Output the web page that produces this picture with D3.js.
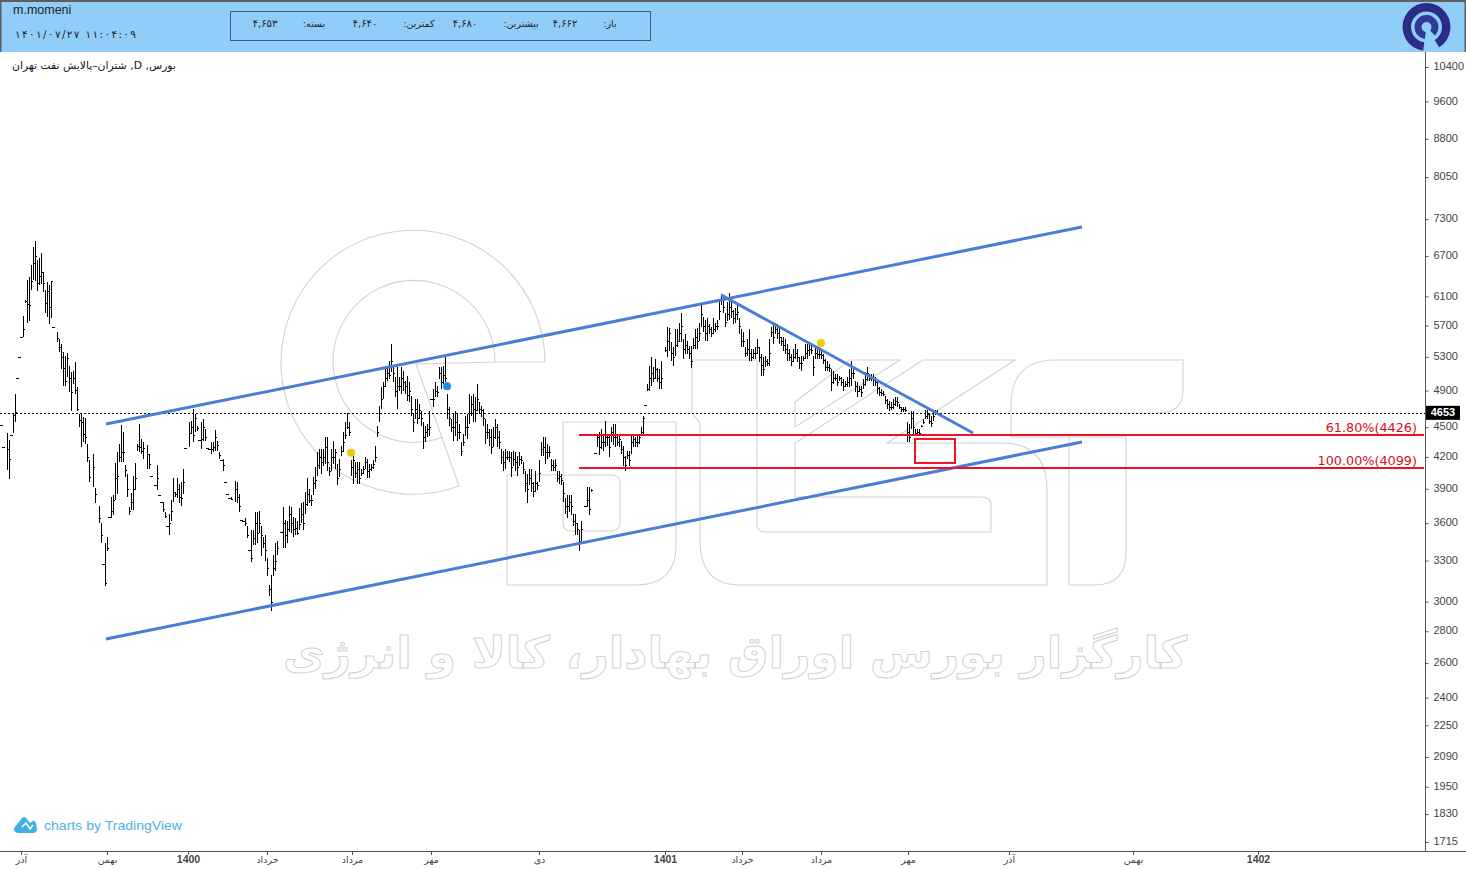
<!DOCTYPE html>
<html lang="fa">
<head>
<meta charset="utf-8">
<title>m.momeni</title>
<script src="https://cdnjs.cloudflare.com/ajax/libs/d3/7.8.5/d3.min.js"></script>
<style>
html,body{margin:0;padding:0;background:#fff;overflow:hidden}
svg{display:block;font-family:"Liberation Sans",Arial,sans-serif}
.fa{font-family:"DejaVu Sans",sans-serif}
</style>
</head>
<body>
<svg id="chart" width="1466" height="869"></svg>
<script>
// Daily bars, one row per ten sessions. null marks a session with no print.
const highs = [
4525,4300,null,4440,4370,4420,4640,4860,5045,5295,
5555,5835,6050,6340,6385,6565,6845,6940,6640,6670,
6750,6460,6195,6310,6270,6325,5685,null,5610,5530,
5455,5355,5310,5345,5185,5115,5125,5235,4940,4640,
4650,4610,4600,4330,4165,null,4230,3910,null,3750,
3600,3270,3435,3490,3655,3830,3840,4145,4250,4330,
4525,4450,4125,4040,3740,3865,4020,4145,4330,4535,
4380,4350,null,4320,4230,4020,null,3930,4125,3840,
3785,3785,3695,3575,3680,3795,3995,3875,3995,3945,
3965,4085,4290,null,4555,4565,4695,4640,4515,4370,
4555,4590,4485,4290,4280,4350,4350,4470,4360,4250,
4165,4180,3965,3855,3815,3830,null,3975,3965,3855,
3625,3615,3640,3575,3380,3540,3540,3695,3695,3705,
3575,3490,3500,3320,3115,3190,3340,3435,3450,null,
3530,3740,3625,3615,3750,3740,3655,3640,3615,3730,
3770,3785,3875,3995,3900,3840,4010,4105,4250,4280,
4280,4280,4400,4400,4105,4280,4360,4280,4135,4180,
4310,4450,4555,4650,4555,4165,4250,4150,4150,4150,
4085,4115,4200,4180,4135,4135,4165,4310,4515,4725,
4940,5000,5175,5175,5245,5455,5185,5060,5175,5055,
5175,5125,5010,5065,5000,4840,4640,4805,4805,4750,
4670,4555,4515,4535,4670,4805,4915,4995,4950,5175,
5175,5185,5295,4860,4715,4590,4640,4670,4640,4535,
4350,4430,4620,4640,4860,4840,4860,4825,4975,4770,
4730,4695,4590,4535,4485,4485,4505,4590,4535,4460,
4280,4260,4280,4260,4260,4250,4260,4250,4210,4250,
4210,4150,4060,4040,4085,4085,3965,4060,3965,4165,
4350,4400,4400,4330,4310,4180,4165,4180,4060,4065,
4040,3965,3815,3840,3840,3840,3680,3680,3600,3540,
3615,null,3750,3920,3920,3900,4105,4240,4430,4450,
4480,4430,4565,4430,4430,4505,4535,4535,4430,4410,
4360,4310,4210,4260,4260,4430,4430,4400,4410,4430,
4505,4620,4740,4975,5185,5295,5175,5270,5160,5150,
5245,null,5420,5685,5670,5480,5420,5650,5650,5740,
5870,5520,5585,5495,5430,5430,5535,5650,5670,5740,
6010,5820,5780,5805,5715,5685,5805,5740,5780,6050,
6135,6050,5875,6025,6150,6050,5915,5940,5985,5805,
5650,5620,5420,5520,5650,5395,5395,5420,5520,5420,
5330,5295,5310,5270,5520,5685,5750,5740,5715,5675,
5555,5545,5520,5455,5395,5330,5395,5455,5395,5295,
5310,5310,5455,5455,5455,5430,5310,5430,5430,5420,
5395,5330,5270,5245,5210,5150,5125,5090,5090,5065,
5055,5030,5010,5055,5150,5245,5175,5010,5000,4950,
4950,5030,5115,5175,5090,5090,5090,5055,5000,4940,
4915,4895,4840,4805,4785,4770,4805,4830,4830,4750,
4715,4715,4715,4555,4535,4670,4670,4485,4485,4485,
4520,4590,4680,4680,4640,4620,4670,4680,4680
];
const lows = [
4525,4300,null,4078,3985,4420,4440,4555,5045,5295,
5555,5545,6010,5740,5765,6195,6340,6325,6170,6270,
6285,6160,5875,5820,5715,5805,5685,null,5480,5355,
5150,4950,4950,5055,4885,4670,4975,4860,4670,4500,
4300,4350,4330,4150,3965,null,3920,3770,null,3600,
3435,3270,3110,3375,3655,3640,3665,3795,3855,4150,
4150,4150,4010,3830,3665,3710,3715,3885,4260,4250,
4230,4180,null,4085,4085,4020,null,3930,3885,3840,
3785,3695,3640,3575,3500,3615,3785,3830,3815,3770,
3750,3855,4290,null,4300,4430,4350,4450,4460,4370,
4280,4360,4360,4290,4280,4230,4250,4260,4260,4180,
4165,4065,3965,3855,3815,3795,null,3785,3770,3695,
3625,3615,3575,3475,3380,3290,3420,3420,3435,3515,
3335,3395,3295,3180,3040,2935,3180,3220,3340,null,
3530,3395,3395,3435,3530,3515,3490,3500,3500,3540,
3600,3540,3680,3750,3770,3750,3840,3900,4020,4085,
4040,4115,4135,4060,4020,4065,4135,4085,3930,4010,
4210,4250,4380,4485,4410,4020,3945,3995,3945,3945,
4020,4040,4085,3995,3995,4065,4085,4150,4400,4555,
4695,4805,4940,5010,5030,5115,4995,4830,4695,4895,
4860,4895,4860,4785,4770,4615,4450,4590,4535,4590,
4515,4280,4350,4400,4410,4805,4715,4830,4830,5030,
4915,4975,5000,4590,4515,4450,4360,4410,4360,4380,
4210,4310,4410,4380,4535,4615,4555,4555,4670,4640,
4610,4515,4330,4380,4310,4230,4300,4380,4300,4280,
4135,4060,4085,4165,4150,4010,4115,4060,4020,4115,
4135,4040,3875,3770,3930,3875,3830,3875,3885,3965,
4210,4210,4135,4180,4200,4060,4065,4065,3965,3945,
3930,3785,3680,3640,3695,3665,3575,3500,3500,3375,
3450,null,3750,3740,3665,3875,4105,4240,4300,4220,
4280,4260,4300,4310,4200,4350,4320,4300,4310,4300,
4230,4115,4065,4180,4115,4230,4300,4300,4300,4330,
4410,4430,4740,4900,4900,4950,4995,5030,4995,4915,
4915,null,5355,5295,5370,5245,5185,5310,5420,5480,
5480,5270,5330,5330,5270,5160,5395,5395,5395,5495,
5680,5610,5495,5495,5585,5555,5585,5620,5635,5780,
5985,5875,5680,5755,5780,5805,5715,5740,5780,5585,
5420,5420,5295,5310,5245,5245,5270,5270,5330,5235,
5065,5065,5175,5185,5185,5555,5455,5585,5520,5455,
5430,5370,5330,5245,5245,5185,5235,5270,5235,5150,
5125,5245,5270,5270,5310,5330,5065,5270,5270,5270,
5270,5210,5125,5125,5115,4895,4975,5010,4950,5010,
4950,4895,4940,4940,4940,4950,5030,4885,4830,4885,
4830,4915,4950,5010,5010,5010,4950,4950,4860,4840,
4840,4840,4750,4695,4670,4680,4695,4725,4715,4695,
4660,4660,4660,4350,4350,4485,4410,4410,4410,4410,
4500,4535,4590,4590,4535,4505,4565,4630,4640
];
const closes = [
4525,4300,null,4280,4182,4420,4630,4660,5045,5295,
5555,5650,6030,6000,5980,6320,6600,6700,6300,6390,
6450,6290,6010,6170,5950,6320,5685,null,5540,5420,
5300,5160,5010,5280,5040,4880,5050,4910,4700,4580,
4560,4430,4400,4200,4010,null,4100,3850,null,3640,
3500,3270,3130,3400,3655,3700,3800,4000,4020,4200,
4250,4250,4070,3900,3700,3780,3900,4000,4310,4300,
4260,4290,null,4230,4130,4020,null,3930,4000,3840,
3785,3720,3660,3575,3600,3700,3870,3850,3900,3830,
3820,3960,4290,null,4440,4500,4420,4600,4490,4370,
4380,4500,4400,4290,4280,4280,4300,4400,4320,4220,
4165,4120,3965,3855,3815,3810,null,3900,3830,3750,
3625,3615,3600,3500,3380,3320,3480,3600,3520,3600,
3500,3440,3380,3240,3090,3000,3240,3300,3400,null,
3530,3600,3500,3550,3680,3600,3550,3560,3520,3590,
3680,3600,3760,3850,3800,3800,3950,3980,4120,4200,
4150,4200,4300,4150,4060,4200,4200,4250,4000,4080,
4260,4350,4420,4500,4450,4100,4170,4050,4080,4000,
4050,4080,4150,4060,4080,4100,4130,4200,4450,4650,
4800,4950,5050,5100,5080,5250,5100,4900,4950,4950,
5050,5000,4950,4850,4900,4700,4550,4700,4600,4680,
4600,4400,4450,4480,4500,4805,4800,4900,4880,5100,
5000,5080,5050,4700,4600,4500,4500,4550,4450,4450,
4260,4350,4500,4500,4650,4750,4700,4680,4800,4700,
4680,4600,4450,4450,4400,4300,4400,4500,4400,4350,
4200,4150,4200,4200,4200,4100,4180,4150,4100,4180,
4170,4080,3950,3900,4000,3950,3880,3950,3930,4050,
4280,4300,4250,4250,4250,4120,4100,4120,4000,4020,
3980,3860,3750,3750,3780,3750,3620,3600,3550,3450,
3550,null,3750,3800,3720,3890,4105,4240,4400,4300,
4350,4350,4400,4400,4300,4450,4400,4400,4350,4380,
4280,4200,4120,4220,4170,4350,4380,4350,4350,4400,
4450,4600,4740,4920,5050,5100,5050,5150,5050,5000,
5050,null,5380,5500,5600,5350,5300,5450,5500,5600,
5700,5400,5450,5400,5350,5250,5450,5550,5500,5600,
5850,5700,5600,5700,5650,5600,5650,5700,5700,5900,
6050,5950,5750,5850,5950,5900,5800,5850,5880,5700,
5500,5500,5350,5400,5350,5300,5350,5350,5420,5300,
5200,5150,5250,5220,5350,5620,5550,5650,5600,5550,
5500,5450,5400,5350,5300,5250,5300,5350,5300,5220,
5220,5280,5350,5380,5400,5380,5180,5350,5330,5340,
5320,5260,5180,5180,5160,5000,5050,5040,5000,5040,
5000,4950,4980,5000,5050,5100,5100,4950,4900,4920,
4880,4980,5030,5100,5050,5050,5020,5000,4930,4880,
4870,4860,4790,4750,4720,4720,4750,4780,4770,4720,
4690,4690,4680,4450,4400,4600,4500,4440,4450,4440,
4510,4560,4620,4640,4570,4540,4620,4650,4653
];
const lastOpen = 4662;

// Price axis
const priceTicks = [10400,9600,8800,8050,7300,6700,6100,5700,5300,4900,4500,4200,3900,3600,3300,3000,2800,2600,2400,2250,2090,1950,1830,1715];

// Session axis: bar number and the month or year printed under it
const sessionTicks = [10,53,93.5,133,175.5,215,269,332,370.5,410,453.5,504,566,628.5];
const sessionLabels = ["آذر","بهمن","1400","خرداد","مرداد","مهر","دی","1401","خرداد","مرداد","مهر","آذر","بهمن","1402"];

// Drawn studies, as [bar, price] anchors
const channelUpper = [[52.5,4533],[540.5,7169]];
const channelLower = [[52.5,2750],[540.5,4348]];
const downTrend = [[360,6121],[486,4440]];
const fibLevels = [{ratio:"61.80%",price:4426},{ratio:"100.00%",price:4099}];
const fibStartBar = 289;
const targetBox = {from:457,to:477,top:4379,bottom:4141};
const eventDots = [{bar:175,price:4240,color:"#f2c80f"},{bar:410,price:5475,color:"#f2c80f"},{bar:223,price:4950,color:"#1c8ae6"}];

const svg = d3.select("#chart");
const PLOT_RIGHT = 1425, AXIS_Y = 851, HEADER_H = 52;
const x = d3.scaleLinear().domain([0,712]).range([1,PLOT_RIGHT]);
const y = d3.scaleLog().domain([10400,1715]).range([67,842]);
const lastClose = closes[closes.length-1];
const lastHigh = highs[highs.length-1];
const lastLow = lows[lows.length-1];
const snap = v => Math.round(v)+0.5;

// Background brand mark: ring and lettering outlines behind the plot
const wm = svg.append("g").attr("fill","none").attr("stroke","#d2d2d2").attr("stroke-width",1.1);
const R=132, r=81;
wm.append("path").attr("d",
  `M545,362 A${R},${R} 0 1 0 459,486 L416,364 L495,362 A${r},${r} 0 1 0 443,437`);
wm.append("path").attr("d","M495,362 L545,362");
wm.append("path").attr("d",
  "M563,422 H676 V545 Q676,585 636,585 H507 V475 H612 Q620,475 620,483 V522 Q620,531 612,531 H571 Q563,531 563,523 Z");
wm.append("path").attr("d",
  "M692,360 H757 V524 Q757,532 765,532 H991 V505 Q991,497 980,497 H795 V443 L923,360 H1015 L887,443 H1002 Q1047,443 1047,490 V585 H740 Q700,585 700,540 V423 L692,413 Z");
wm.append("path").attr("d","M795,402 L850,360 H900 L795,427 Z");
wm.append("path").attr("d",
  "M1011,437 V405 Q1011,360 1056,360 H1183 V390 Q1183,413 1158,413 H1030");
wm.append("path").attr("d",
  "M1011,437 H1126 V552 Q1126,585 1095,585 H1069 V437");
svg.append("text").attr("class","fa")
  .attr("x",1187).attr("y",668).attr("text-anchor","start")
  .attr("direction","rtl").attr("font-size",44).attr("font-weight","bold")
  .attr("fill","#fff").attr("stroke","#d2d2d2").attr("stroke-width",1)
  .attr("textLength",904).attr("lengthAdjust","spacingAndGlyphs")
  .text("کارگزار بورس اوراق بهادار، کالا و انرژی");

// Last price line
svg.append("line").attr("x1",0).attr("x2",PLOT_RIGHT)
  .attr("y1",snap(y(lastClose))).attr("y2",snap(y(lastClose)))
  .attr("stroke","#000").attr("stroke-dasharray","2,2");

// Price bars: high-low stroke with a close tick
const bars = d3.range(highs.length).filter(i => highs[i]!==null);
const barG = svg.append("g").attr("stroke","#000").attr("stroke-width",1).attr("shape-rendering","crispEdges");
barG.selectAll("line.hl").data(bars.filter(i => highs[i]!==lows[i])).join("line").attr("class","hl")
  .attr("x1",i=>snap(x(i))).attr("x2",i=>snap(x(i)))
  .attr("y1",i=>y(highs[i])).attr("y2",i=>y(lows[i]));
barG.selectAll("line.c").data(bars).join("line").attr("class","c")
  .attr("x1",i=>snap(x(i))-(highs[i]===lows[i]?2:0)).attr("x2",i=>snap(x(i))+1)
  .attr("y1",i=>snap(y(closes[i]))).attr("y2",i=>snap(y(closes[i])));

// Trend channel and down-trend line
const lineGen = d3.line().x(d=>x(d[0])).y(d=>y(d[1]));
svg.selectAll("path.trend").data([channelUpper,channelLower,downTrend]).join("path").attr("class","trend")
  .attr("d",lineGen).attr("fill","none").attr("stroke","#4a7dd8").attr("stroke-width",3);

// Fibonacci levels
const fibY = d => y(d.price)+0.7;
const fib = svg.append("g");
fib.selectAll("line").data(fibLevels).join("line")
  .attr("x1",x(fibStartBar)).attr("x2",PLOT_RIGHT-1)
  .attr("y1",fibY).attr("y2",fibY)
  .attr("stroke","#ee1122").attr("stroke-width",2);
fib.selectAll("text").data(fibLevels).join("text")
  .attr("class","fa").attr("x",1417).attr("y",d=>fibY(d)-3.5)
  .attr("text-anchor","end").attr("font-size",12.8).attr("fill","#d40f1c")
  .text(d=>`${d.ratio}(${d.price})`);

// Target zone
svg.append("rect")
  .attr("x",x(targetBox.from)).attr("y",y(targetBox.top))
  .attr("width",x(targetBox.to)-x(targetBox.from)).attr("height",y(targetBox.bottom)-y(targetBox.top))
  .attr("fill","none").attr("stroke","#ee1122").attr("stroke-width",2);

// Event markers
svg.selectAll("circle.evt").data(eventDots).join("circle").attr("class","evt")
  .attr("cx",d=>x(d.bar)).attr("cy",d=>y(d.price)).attr("r",4).attr("fill",d=>d.color);

// Price axis
const yAxis = d3.axisRight(y).tickValues(priceTicks).tickFormat(d3.format("d")).tickSize(3).tickPadding(5);
const yG = svg.append("g").attr("transform",`translate(${PLOT_RIGHT+0.5},0)`).call(yAxis);
yG.select(".domain").remove();
yG.selectAll("line").attr("stroke","#555");
yG.selectAll("text").attr("font-size",11).attr("fill","#444").attr("font-family","Liberation Sans").attr("dy","0.25em");
svg.append("line").attr("x1",PLOT_RIGHT+0.5).attr("x2",PLOT_RIGHT+0.5).attr("y1",HEADER_H).attr("y2",AXIS_Y).attr("stroke","#555");

// Last price tag
svg.append("rect").attr("x",1426).attr("y",y(lastClose)-7).attr("width",34).attr("height",14).attr("fill","#000");
svg.append("text").attr("x",1443).attr("y",y(lastClose)+3.5).attr("text-anchor","middle")
  .attr("font-size",11).attr("font-weight","bold").attr("fill","#fff").text(lastClose);

// Session axis
const labelByTick = new Map(sessionTicks.map((t,k)=>[t,sessionLabels[k]]));
const isYear = t => /^\d/.test(labelByTick.get(t));
const xAxis = d3.axisBottom(x).tickValues(sessionTicks).tickFormat(t=>labelByTick.get(t)).tickSize(4).tickPadding(1);
const xG = svg.append("g").attr("transform",`translate(0,${AXIS_Y})`).call(xAxis);
xG.select(".domain").remove();
xG.selectAll("line").attr("stroke","#555");
xG.selectAll("text")
  .attr("font-size",t=>isYear(t)?10.5:9.5)
  .attr("font-weight",t=>isYear(t)?"bold":"normal")
  .attr("font-family",t=>isYear(t)?"Liberation Sans":"DejaVu Sans")
  .attr("fill","#444");
svg.append("line").attr("x1",0).attr("x2",1466).attr("y1",AXIS_Y+0.5).attr("y2",AXIS_Y+0.5).attr("stroke","#555").attr("stroke-width",1.2);

// Header band
const toFa = s => String(s).replace(/\d/g,c=>"۰۱۲۳۴۵۶۷۸۹"[+c]);
const fmt = v => toFa(d3.format(",")(v));
svg.append("rect").attr("width",1466).attr("height",HEADER_H).attr("fill","#90cdf9");
svg.append("rect").attr("width",1466).attr("height",2).attr("fill","#5e5e5e");
svg.append("rect").attr("width",1.5).attr("height",HEADER_H).attr("fill","#5e5e5e");
svg.append("rect").attr("x",1464.5).attr("width",1.5).attr("height",HEADER_H).attr("fill","#5e5e5e");
svg.append("text").attr("x",13).attr("y",14).attr("font-size",12.5).attr("fill","#222").text("m.momeni");
svg.append("text").attr("class","fa").attr("x",15).attr("y",37.5).attr("font-size",10.5).attr("fill","#222")
  .attr("direction","ltr").style("unicode-bidi","bidi-override")
  .attr("textLength",121).attr("lengthAdjust","spacing").text("۱۴۰۱/۰۷/۲۷ ۱۱:۰۴:۰۹");
svg.append("rect").attr("x",230.5).attr("y",11.5).attr("width",420).attr("height",29)
  .attr("fill","none").attr("stroke","#3f5f7f");
const ohlcCells = [
  {t:"باز:",x:610,label:true},{t:fmt(lastOpen),x:565},
  {t:"بیشترین:",x:521,label:true},{t:fmt(lastHigh),x:465},
  {t:"کمترین:",x:419,label:true},{t:fmt(lastLow),x:365},
  {t:"بسته:",x:314,label:true},{t:fmt(lastClose),x:265}
];
svg.append("g").selectAll("text").data(ohlcCells).join("text").attr("class","fa")
  .attr("x",d=>d.x).attr("y",26.5).attr("text-anchor","middle").attr("font-size",d=>d.label?9.5:10).attr("fill","#222")
  .attr("direction",d=>d.label?"rtl":"ltr")
  .text(d=>d.t);

// Broker logo
const arc = d3.arc();
const logo = svg.append("g").attr("transform","translate(1426.5,27)");
const deg = a => a*Math.PI/180;
logo.append("path").attr("fill","#2a2c86")
  .attr("d",arc({innerRadius:15.5,outerRadius:24,startAngle:deg(-172),endAngle:deg(148)}));
logo.append("path").attr("fill","#2f3a97")
  .attr("d",arc({innerRadius:5,outerRadius:12,startAngle:deg(-172),endAngle:deg(135)}));

// Instrument title
svg.append("text").attr("class","fa").attr("x",176).attr("y",69).attr("direction","rtl")
  .attr("text-anchor","start").attr("font-size",10.5).attr("fill","#111")
  .attr("textLength",164).attr("lengthAdjust","spacingAndGlyphs")
  .text("بورس, D, شتران–پالایش نفت تهران");

// Vendor credit
const credit = svg.append("g").attr("fill","#3fb1e3");
credit.append("path").attr("d","M14,828 L22,818 Q24,816 26,818 L30,823 L33,821 Q35,820 36,823 L37,829 Q37,833 33,833 L18,833 Q13,832 14,828 Z");
credit.append("path").attr("d","M22,827 L26,823 L30,829 L33,825").attr("fill","none").attr("stroke","#fff").attr("stroke-width",1.5);
credit.append("text").attr("x",44).attr("y",830).attr("font-size",13.5).attr("fill","#4db3df")
  .attr("textLength",138).attr("lengthAdjust","spacingAndGlyphs").text("charts by TradingView");
</script>
</body>
</html>
